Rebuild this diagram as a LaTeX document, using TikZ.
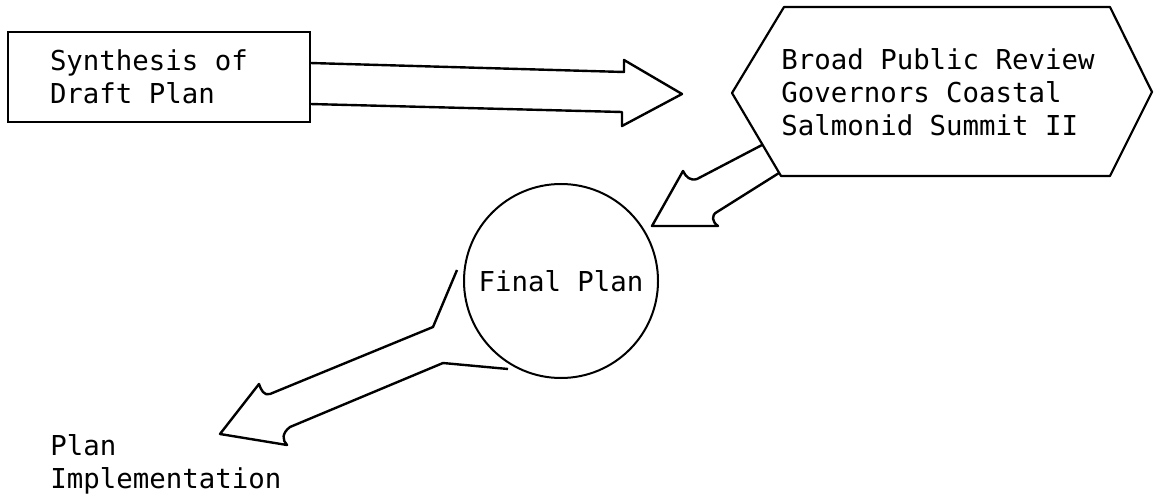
\documentclass[tikz,border=0pt]{standalone}
\usepackage{fontspec}
\newfontfamily\typed{DejaVu Sans Mono}
\usetikzlibrary{shapes.geometric, arrows, positioning}

\begin{document}
\begin{tikzpicture}[x=0.5pt, y=-0.5pt]
% one unit is one point of the scanned sheet
\useasboundingbox (0,0) rectangle (1155,497);
% Styles for the boxes, the text and the hand drawn block arrows
\tikzstyle{typed_text} = [inner sep=0pt, align=left, font=\typed\fontsize{13.7pt}{16.5pt}\selectfont, execute at begin node={\spaceskip=8.25pt\relax}]
\tikzstyle{draft_box} = [typed_text, rectangle, draw=black, line width=1.2pt, minimum width=151pt, minimum height=45pt, text width=109pt]
\tikzstyle{final_circle} = [typed_text, circle, draw=black, line width=1pt, minimum size=97pt]
\tikzstyle{review_hex} = [draw=black, line width=1.1pt, line join=round]
\tikzstyle{block_arrow} = [draw=black, line width=1.2pt, line join=round]
% Start initiating nodes
\node (draft) [draft_box] at (159,77) {Synthesis of\\Draft Plan};
\node (review) [typed_text] at (938,92) {Broad Public Review\\Governors Coastal\\Salmonid Summit II};
\node (final) [final_circle] at (561,281) {Final Plan};
\node (implement) [typed_text, anchor=north west] at (50,434) {Plan\\Implementation};

% Hexagon round the review text
\draw [review_hex] (732,93) -- (784,7) -- (1110,7) -- (1152,92) -- (1110,176) -- (781,176) -- cycle;

% Draw the block arrows between the stages
\draw [block_arrow] (310,63) -- (624,72) -- (624,60) -- (682,94) -- (622,126) -- (622,112) -- (310,104);
\draw [block_arrow] (762,145) -- (697,179) .. controls (690,181) and (686,177) .. (683,171)
  -- (652,226) -- (718,226) .. controls (712,222) and (711,215) .. (717,212) -- (779,173);
\draw [block_arrow] (457,270) -- (433,327) -- (270,394) .. controls (264,396) and (261,390) .. (259,384)
  -- (220,434) -- (287,445) .. controls (282,440) and (282,433) .. (290,427) -- (443,363) -- (508,369);
\end{tikzpicture}
\end{document}
